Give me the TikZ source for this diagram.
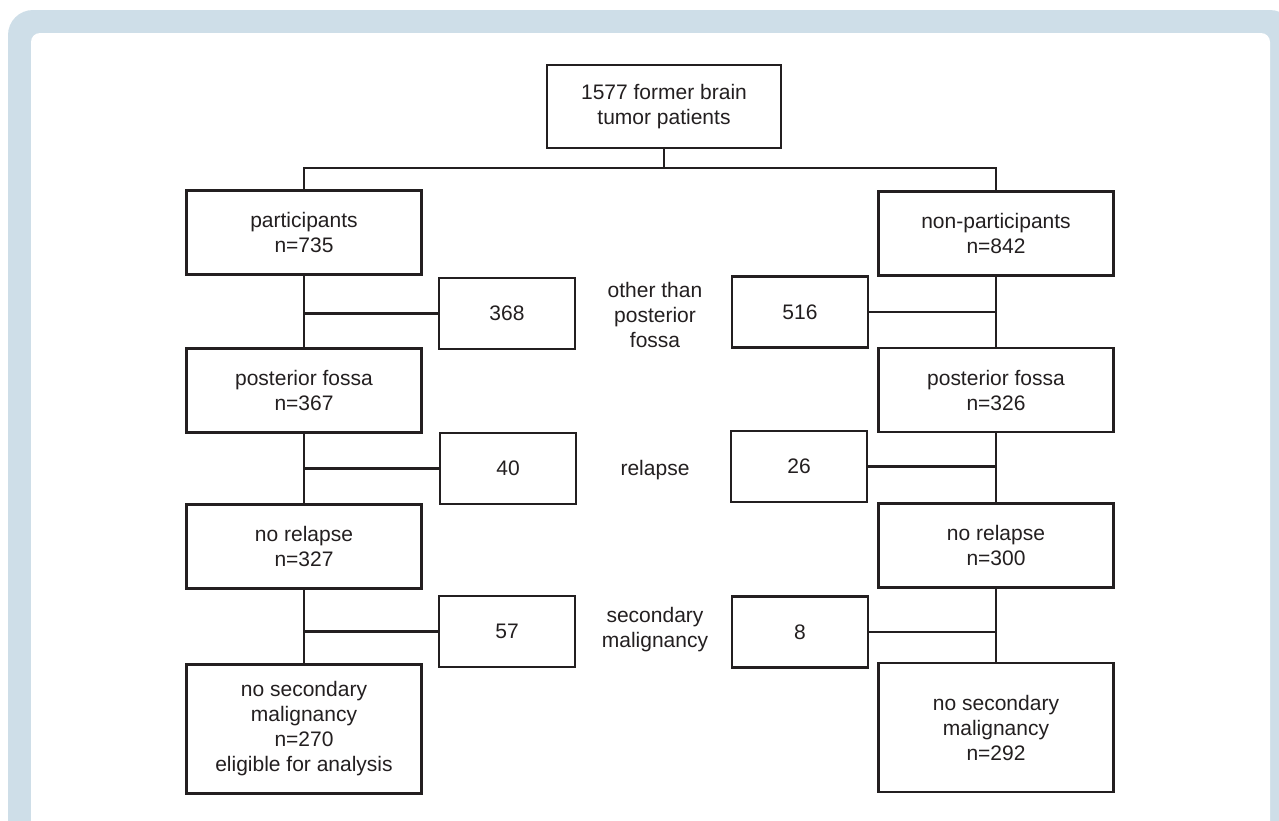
\documentclass[tikz,border=0pt]{standalone}
\usepackage{fontspec}
\setmainfont{Liberation Sans}
\definecolor{framefill}{RGB}{206, 222, 232}
\definecolor{inkcol}{RGB}{35, 31, 32}
\tikzset{
  % main boxes on the two columns (participants / non-participants)
  box/.style={
    draw=inkcol, line width=2.8pt, fill=white, text=inkcol,
    align=center, inner sep=0pt,
    minimum width=235pt, minimum height=84pt,
    font=\fontsize{21}{25}\selectfont
  },
  box tall/.style={box, minimum height=129pt},
  %
  % small boxes holding the excluded counts
  exbox/.style={box, minimum width=136pt, minimum height=71pt},
  %
  % reason labels between the two columns
  reason/.style={text=inkcol, align=center, font=\fontsize{21}{25}\selectfont},
  %
  % connectors
  link/.style={draw=inkcol, line width=2.3pt},
}

\begin{document}
\begin{tikzpicture}[x=1pt, y=-1pt]

  \useasboundingbox (0,0) rectangle (1279,820);

  %% ── Frame ─────────────────────────────────────────────────────────────────
  \begin{scope}
    \clip (0,0) rectangle (1279,820);
    \fill[framefill, rounded corners=25pt] (8,10) rectangle (1295,860);
    \fill[white, rounded corners=9pt] (31,33) rectangle (1270,860);
  \end{scope}

  %% ── Root ──────────────────────────────────────────────────────────────────
  \node[box, minimum width=234pt, minimum height=83pt] (root) at (664, 106.5)
    {1577 former brain\\tumor patients};
  \coordinate (fork) at (664, 168);

  %% ── Participants (left column) ────────────────────────────────────────────
  \node[box]      (partA)  at (304, 232.5) {participants\\n=735};
  \node[box]      (fossaA) at (304, 390.5) {posterior fossa\\n=367};
  \node[box]      (relA)   at (304, 546.5) {no relapse\\n=327};
  \node[box tall] (malA)   at (304, 729)   {no secondary\\malignancy\\n=270\\eligible for analysis};

  %% ── Non-participants (right column) ───────────────────────────────────────
  \node[box]      (partB)  at (996, 233.5) {non-participants\\n=842};
  \node[box]      (fossaB) at (996, 390)   {posterior fossa\\n=326};
  \node[box]      (relB)   at (996, 545.5) {no relapse\\n=300};
  \node[box tall] (malB)   at (996, 727.5) {no secondary\\malignancy\\n=292};

  %% ── Excluded counts ───────────────────────────────────────────────────────
  \node[exbox] (exFossaA) at (507, 313.5) {368};
  \node[exbox] (exRelA)   at (508, 468.5) {40};
  \node[exbox] (exMalA)   at (507, 631.5) {57};
  \node[exbox] (exFossaB) at (800, 312)   {516};
  \node[exbox] (exRelB)   at (799, 466.5) {26};
  \node[exbox] (exMalB)   at (800, 632)   {8};

  %% ── Reasons ───────────────────────────────────────────────────────────────
  \node[reason] (whyFossa) at (655, 315) {other than\\posterior\\fossa};
  \node[reason] (whyRel)   at (655, 470) {relapse};
  \node[reason] (whyMal)   at (655, 630) {secondary\\malignancy};

  %% ── Connectors ────────────────────────────────────────────────────────────
  \draw[link] (root.south) -- (fork);
  \draw[link] (partA.north) -- (partA.north |- fork) -- (partB.north |- fork) -- (partB.north);

  % column stems
  \draw[link] (partA.south)  -- (fossaA.north);
  \draw[link] (fossaA.south) -- (relA.north);
  \draw[link] (relA.south)   -- (malA.north);
  \draw[link] (partB.south)  -- (fossaB.north);
  \draw[link] (fossaB.south) -- (relB.north);
  \draw[link] (relB.south)   -- (malB.north);

  % side branches to the excluded counts
  \draw[link] (exFossaA.west) -- (exFossaA.west -| partA.south);
  \draw[link] (exRelA.west)   -- (exRelA.west -| partA.south);
  \draw[link] (exMalA.west)   -- (exMalA.west -| partA.south);
  \draw[link] (exFossaB.east) -- (exFossaB.east -| partB.south);
  \draw[link] (exRelB.east)   -- (exRelB.east -| partB.south);
  \draw[link] (exMalB.east)   -- (exMalB.east -| partB.south);

\end{tikzpicture}
\end{document}
